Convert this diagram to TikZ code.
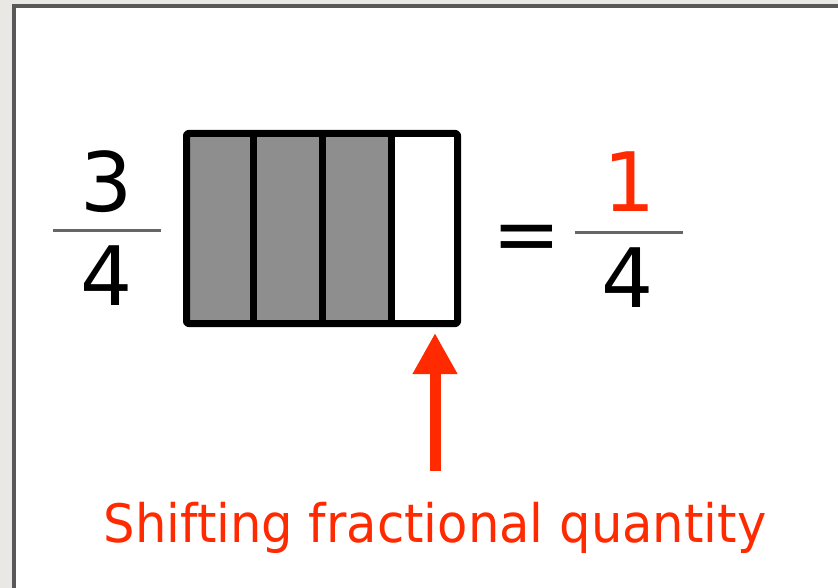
\documentclass[tikz,border=0pt]{standalone}
\usepackage{fontspec}
\usepackage{graphicx}
\setmainfont{DejaVu Sans}
\definecolor{bgpaper}{HTML}{E9E8E4}
\definecolor{frameline}{HTML}{595959}
\definecolor{redtxt}{HTML}{FF2A00}
\definecolor{barfill}{HTML}{8E8E8E}
\definecolor{fracbar}{HTML}{666666}
\tikzset{
  digit/.style={inner sep=0pt, anchor=base, font=\fontsize{82}{90}\selectfont},
  fbar/.style={draw=fracbar, line width=3pt},
  cell/.style={draw=black, line width=7pt, line join=round},
  redarrow/.style={draw=redtxt, line width=11pt, -{Triangle[length=41pt,width=42pt]}},
}
\usetikzlibrary{arrows.meta}
\begin{document}
\begin{tikzpicture}[x=1pt,y=-1pt]
\useasboundingbox (0,0) rectangle (838,588);
% background and panel
\fill[bgpaper] (0,0) rectangle (838,588);
\fill[frameline] (12,4) rectangle (850,600);
\fill[white] (16,8) rectangle (850,600);
% left fraction 3/4
\node[digit] (n3) at (107,212) {3};
\coordinate (b1l) at (53,231);
\coordinate (b1r) at (161,231);
\draw[fbar] (b1l) -- (b1r);
\node[digit] (d4a) at (107,305) {4};
% bar model
\fill[barfill] (186.5,133.5) rectangle (391.5,323.5);
\draw[cell, rounded corners=2pt] (186.5,133.5) rectangle (457.5,323.5);
\draw[cell] (253,133.5) -- (253,323.5);
\draw[cell] (322,133.5) -- (322,323.5);
\draw[cell] (391.5,133.5) -- (391.5,323.5);
% equals
\node[digit] (eq) at (527,262) {=};
% right fraction 1/4
\node[digit, text=redtxt] (n1) at (630,212) {1};
\coordinate (b2l) at (575,233);
\coordinate (b2r) at (683,233);
\draw[fbar] (b2l) -- (b2r);
\node[digit] (d4b) at (628,307) {4};
% label and arrow
\node[inner sep=0pt, anchor=base, text=redtxt, font=\fontsize{53}{60}\selectfont] (lbl) at (435,542) {\scalebox{0.936}[1]{Shifting fractional quantity}};
\coordinate (arrowfoot) at (435,471);
\coordinate (arrowtip) at (435,333);
\draw[redarrow] (arrowfoot) -- (arrowtip);
\end{tikzpicture}
\end{document}
